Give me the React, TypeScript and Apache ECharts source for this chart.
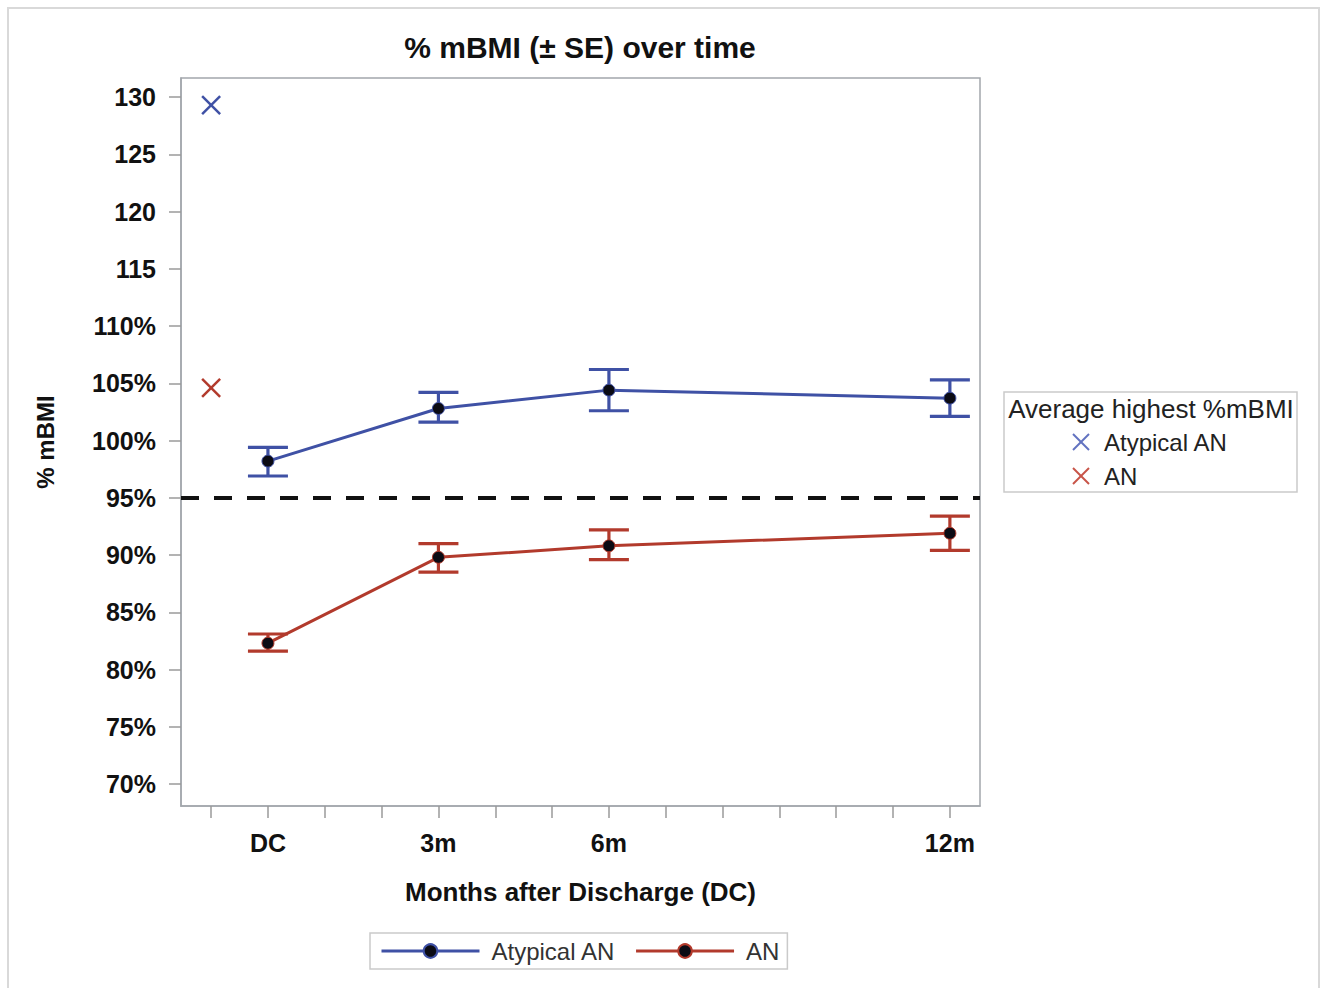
import React, { useEffect, useRef } from "react";
import * as echarts from "echarts";

// ---- data ----
const months = [0, 3, 6, 12];
const monthTicks = [-1, 0, 1, 2, 3, 4, 5, 6, 7, 8, 9, 10, 11, 12];
const monthLabelValues = [0, 3, 6, 12];
const monthLabelText: Record<number, string> = { 0: "DC", 3: "3m", 6: "6m", 12: "12m" };
const yTicks = [70, 75, 80, 85, 90, 95, 100, 105, 110, 115, 120, 125, 130];

const atypicalMean = [98.2, 102.8, 104.4, 103.7];
const atypicalLower = [96.9, 101.6, 102.6, 102.1];
const atypicalUpper = [99.4, 104.2, 106.2, 105.3];

const anMean = [82.3, 89.8, 90.8, 91.9];
const anLower = [81.6, 88.5, 89.6, 90.4];
const anUpper = [83.1, 91.0, 92.2, 93.4];

const highestX = -1;
const highestAtypical = 129.3;
const highestAN = 104.6;
const referenceLine = 95;

const BLUE = "#3F51A5";
const RED = "#B23A2C";
const BLUE_LIGHT = "#6272C0";
const RED_LIGHT = "#C85448";
const FONT = "'Liberation Sans', Arial, sans-serif";

function errorBarRender(color: string) {
  return (params: any, api: any) => {
    const x = api.value(0);
    const lo = api.coord([x, api.value(1)]);
    const hi = api.coord([x, api.value(2)]);
    const hw = 20;
    const style = { stroke: color, lineWidth: 3.2 };
    return {
      type: "group",
      children: [
        { type: "line", shape: { x1: lo[0], y1: lo[1], x2: hi[0], y2: hi[1] }, style },
        { type: "line", shape: { x1: lo[0] - hw, y1: lo[1], x2: lo[0] + hw, y2: lo[1] }, style },
        { type: "line", shape: { x1: hi[0] - hw, y1: hi[1], x2: hi[0] + hw, y2: hi[1] }, style },
      ],
    };
  };
}

function crossRender(color: string) {
  return (params: any, api: any) => {
    const p = api.coord([api.value(0), api.value(1)]);
    const h = 9;
    const style = { stroke: color, lineWidth: 2.5 };
    return {
      type: "group",
      children: [
        { type: "line", shape: { x1: p[0] - h, y1: p[1] - h, x2: p[0] + h, y2: p[1] + h }, style },
        { type: "line", shape: { x1: p[0] - h, y1: p[1] + h, x2: p[0] + h, y2: p[1] - h }, style },
      ],
    };
  };
}

export default function App() {
  const ref = useRef<HTMLDivElement>(null);
  useEffect(() => {
    if (!ref.current) return;
    const chart = echarts.init(ref.current, undefined, { renderer: "svg" });
    const lineSeries = (name: string, mean: number[], color: string, extra: any = {}) => ({
      name,
      type: "line",
      data: months.map((m, i) => [m, mean[i]]),
      symbol: "circle",
      symbolSize: 12,
      itemStyle: { color: "#0b0b14", borderColor: color, borderWidth: 1 },
      lineStyle: { color, width: 3 },
      z: 3,
      ...extra,
    });
    const barSeries = (name: string, lower: number[], upper: number[], color: string) => ({
      name,
      type: "custom",
      renderItem: errorBarRender(color),
      data: months.map((m, i) => [m, lower[i], upper[i]]),
      encode: { x: 0, y: [1, 2] },
      z: 2,
    });
    const crossSeries = (name: string, value: number, color: string) => ({
      name,
      type: "custom",
      renderItem: crossRender(color),
      data: [[highestX, value]],
      encode: { x: 0, y: 1 },
      z: 2,
    });

    const legX = 1004, legY = 392;
    chart.setOption({
      animation: false,
      backgroundColor: "#ffffff",
      textStyle: { fontFamily: FONT },
      title: {
        text: "% mBMI (± SE) over time",
        left: 580,
        textAlign: "center",
        top: 32,
        padding: 0,
        textStyle: { fontSize: 30, fontWeight: "bold", color: "#111", fontFamily: FONT },
      },
      grid: {
        left: 181,
        top: 78,
        right: 346,
        bottom: 182,
        show: true,
        borderColor: "#A3A7AC",
        borderWidth: 1.5,
        backgroundColor: "#fff",
      },
      legend: {
        data: ["Atypical AN", "AN"],
        left: 370,
        top: 933,
        orient: "horizontal",
        borderColor: "#CACACA",
        borderWidth: 1.5,
        padding: [6, 8, 6, 10],
        itemWidth: 98,
        itemHeight: 17,
        itemGap: 19,
        lineStyle: { width: 3 },
        textStyle: { fontSize: 24, color: "#333", fontFamily: FONT, padding: [0, 0, 0, 7] },
      },
      xAxis: {
        type: "value",
        min: -1.53,
        max: 12.53,
        name: "Months after Discharge (DC)",
        nameLocation: "middle",
        nameGap: 73,
        nameTextStyle: { fontSize: 26, fontWeight: "bold", color: "#111", fontFamily: FONT },
        axisLine: { show: true, onZero: false, lineStyle: { color: "#A3A7AC", width: 1.5 } },
        axisTick: { show: true, length: 12, customValues: monthTicks, lineStyle: { color: "#9A9A9A", width: 1.5 } },
        axisLabel: {
          customValues: monthLabelValues,
          formatter: (v: number) => monthLabelText[v] ?? "",
          margin: 24,
          fontSize: 25,
          fontWeight: "bold",
          color: "#111",
          fontFamily: FONT,
        },
        splitLine: { show: false },
      },
      yAxis: {
        type: "value",
        min: 68.08,
        max: 131.66,
        name: "% mBMI",
        nameLocation: "middle",
        nameGap: 124,
        nameRotate: 90,
        nameTextStyle: { fontSize: 24, fontWeight: "bold", color: "#111", fontFamily: FONT },
        axisLine: { show: true, onZero: false, lineStyle: { color: "#A3A7AC", width: 1.5 } },
        axisTick: { show: true, length: 12, customValues: yTicks, lineStyle: { color: "#9A9A9A", width: 1.5 } },
        axisLabel: {
          customValues: yTicks,
          formatter: (v: number) => (v >= 115 ? String(v) : v + "%"),
          margin: 25,
          fontSize: 25,
          fontWeight: "bold",
          color: "#111",
          fontFamily: FONT,
        },
        splitLine: { show: false },
      },
      series: [
        barSeries("Atypical AN SE", atypicalLower, atypicalUpper, BLUE),
        barSeries("AN SE", anLower, anUpper, RED),
        lineSeries("Atypical AN", atypicalMean, BLUE),
        lineSeries("AN", anMean, RED, {
          markLine: {
            silent: true,
            symbol: "none",
            label: { show: false },
            lineStyle: { color: "#111", width: 4, type: [18, 15] },
            data: [{ yAxis: referenceLine }],
          },
        }),
        crossSeries("Highest Atypical AN", highestAtypical, BLUE),
        crossSeries("Highest AN", highestAN, RED),
      ],
      graphic: [
        {
          type: "rect",
          shape: { x: 8, y: 8, width: 1311, height: 990 },
          style: { fill: "none", stroke: "#D9D9D9", lineWidth: 2 },
          silent: true,
        },
        {
          type: "rect",
          shape: { x: legX, y: legY, width: 293, height: 100 },
          style: { fill: "#fff", stroke: "#CACACA", lineWidth: 1.5 },
        },
        {
          type: "text",
          x: legX + 147,
          y: legY + 17,
          style: {
            text: "Average highest %mBMI",
            fontSize: 26,
            fontFamily: FONT,
            fill: "#222",
            align: "center",
            verticalAlign: "middle",
          },
        },
        { type: "line", shape: { x1: 1073, y1: 434, x2: 1089, y2: 450 }, style: { stroke: BLUE_LIGHT, lineWidth: 2 } },
        { type: "line", shape: { x1: 1073, y1: 450, x2: 1089, y2: 434 }, style: { stroke: BLUE_LIGHT, lineWidth: 2 } },
        { type: "line", shape: { x1: 1073, y1: 468, x2: 1089, y2: 484 }, style: { stroke: RED_LIGHT, lineWidth: 2 } },
        { type: "line", shape: { x1: 1073, y1: 484, x2: 1089, y2: 468 }, style: { stroke: RED_LIGHT, lineWidth: 2 } },
        {
          type: "text",
          x: 1104,
          y: 442,
          style: { text: "Atypical AN", fontSize: 24, fontFamily: FONT, fill: "#222", verticalAlign: "middle" },
        },
        {
          type: "text",
          x: 1104,
          y: 476,
          style: { text: "AN", fontSize: 24, fontFamily: FONT, fill: "#222", verticalAlign: "middle" },
        },
      ],
    });
    return () => chart.dispose();
  }, []);
  return (
    <div
      ref={ref}
      style={{ position: "absolute", left: 0, top: 0, width: 1326, height: 988 }}
    />
  );
}
